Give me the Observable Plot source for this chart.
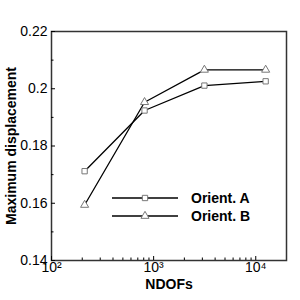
<!DOCTYPE html>
<html><head><meta charset="utf-8">
<script src="https://cdn.jsdelivr.net/npm/d3@7"></script>
<script src="https://cdn.jsdelivr.net/npm/@observablehq/plot@0.6"></script>
<style>
body{margin:0;background:#fff;font-family:"Liberation Sans",Arial,sans-serif;}
#wrap{position:relative;width:300px;height:300px;}
#legend{position:absolute;left:0;top:0;}
</style></head>
<body><div id="wrap"></div>
<script>
const ndofs = [211, 815, 3140, 12500];
const orientA = [0.1712, 0.1924, 0.2011, 0.2026];
const orientB = [0.1594, 0.1953, 0.2066, 0.2066];
const seriesNames = ["Orient. A", "Orient. B"];
const yMajor = [0.14, 0.16, 0.18, 0.2, 0.22];
const yMinor = [0.15, 0.17, 0.19, 0.21];
const xMajor = [100, 1000, 10000];
const xMinor = [200,300,400,500,600,700,800,900,2000,3000,4000,5000,6000,7000,8000,9000];
const xLabels = {100: "10²", 1000: "10³", 10000: "10⁴"};

const dataA = ndofs.map((x,i)=>({x, y: orientA[i]}));
const dataB = ndofs.map((x,i)=>({x, y: orientB[i]}));

const chart = Plot.plot({
  width: 300, height: 300,
  marginLeft: 51, marginRight: 14, marginTop: 31, marginBottom: 40,
  style: {fontFamily: "Liberation Sans, Arial, sans-serif", fontSize: "14px", color: "#000", background: "#fff"},
  x: {type: "log", domain: [100, 20000]},
  y: {domain: [0.14, 0.22]},
  marks: [
    Plot.frame({stroke: "#333", strokeWidth: 1.5}),
    Plot.axisY(yMajor, {tickSize: -4, tickPadding: 8, tickFormat: d => String(+d.toFixed(2)), label: null, strokeWidth: 1}),
    Plot.axisY(yMinor, {tickSize: -2.5, tickFormat: () => "", label: null}),
    Plot.axisX(xMajor, {tickSize: -4, tickPadding: 6, tickFormat: d => xLabels[Math.round(d)], label: null}),
    Plot.axisX(xMinor, {tickSize: -2.5, tickFormat: () => "", label: null}),
    Plot.text(["Maximum displacement"], {frameAnchor: "left", textAnchor: "middle", dx: -40, rotate: -90, fontWeight: "bold", fontSize: 14}),
    Plot.text(["NDOFs"], {frameAnchor: "bottom", dy: 28, fontWeight: "bold", fontSize: 14}),
    Plot.line(dataA, {x: "x", y: "y", stroke: "#000", strokeWidth: 1.3}),
    Plot.line(dataB, {x: "x", y: "y", stroke: "#000", strokeWidth: 1.3}),
    Plot.dot(dataA, {x: "x", y: "y", symbol: "square", r: 3, fill: "#fff", stroke: "#777", strokeWidth: 1}),
    Plot.dot(dataB, {x: "x", y: "y", symbol: "triangle", r: 3, fill: "#fff", stroke: "#777", strokeWidth: 1})
  ]
});
const wrap = document.getElementById("wrap");
wrap.appendChild(chart);

// legend overlay
const ns = "http://www.w3.org/2000/svg";
const lg = document.createElementNS(ns, "svg");
lg.setAttribute("id","legend"); lg.setAttribute("width",300); lg.setAttribute("height",300);
const rows = [{y:198, sym:"square"},{y:216, sym:"triangle"}];
rows.forEach((r,i)=>{
  const l = document.createElementNS(ns,"line");
  l.setAttribute("x1",112); l.setAttribute("x2",178); l.setAttribute("y1",r.y); l.setAttribute("y2",r.y);
  l.setAttribute("stroke","#000"); l.setAttribute("stroke-width",1.3);
  lg.appendChild(l);
  const p = document.createElementNS(ns,"path");
  const sym = r.sym === "square" ? d3.symbolSquare : d3.symbolTriangle;
  p.setAttribute("d", d3.symbol(sym, Math.PI*9)());
  p.setAttribute("transform", `translate(145,${r.y})`);
  p.setAttribute("fill","#fff"); p.setAttribute("stroke","#777");
  lg.appendChild(p);
  const t = document.createElementNS(ns,"text");
  t.setAttribute("x",191); t.setAttribute("y",r.y+5);
  t.setAttribute("font-weight","bold"); t.setAttribute("font-size",14);
  t.setAttribute("font-family","Liberation Sans, Arial, sans-serif");
  t.textContent = seriesNames[i];
  lg.appendChild(t);
});
wrap.appendChild(lg);
</script></body></html>
